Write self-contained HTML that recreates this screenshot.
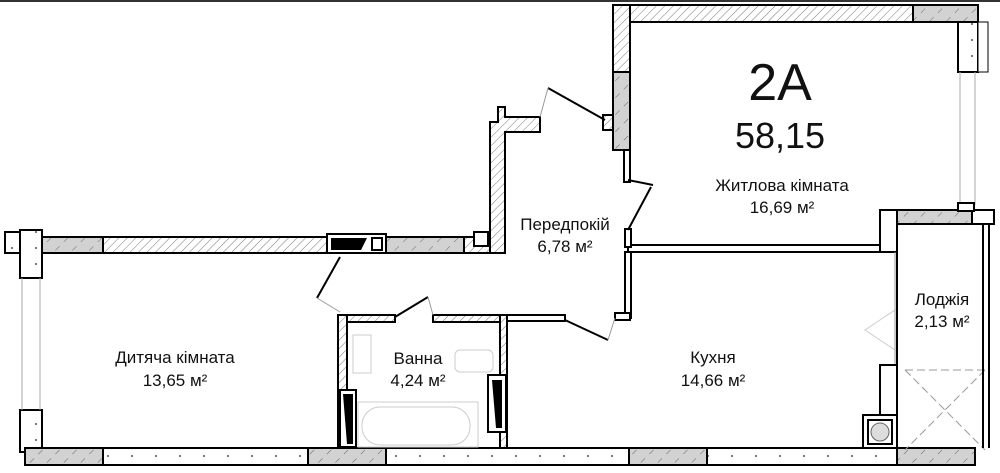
<!DOCTYPE html>
<html><head><meta charset="utf-8"><style>
html,body{margin:0;padding:0;background:#fff;width:1000px;height:473px;overflow:hidden}
svg{display:block}
text{font-family:"Liberation Sans",sans-serif;fill:#111;text-anchor:middle}
</style></head><body>
<svg width="1000" height="473" viewBox="0 0 1000 473" xmlns="http://www.w3.org/2000/svg">
<defs>
<pattern id="h" width="6" height="6" patternUnits="userSpaceOnUse" patternTransform="rotate(45)">
<rect width="6" height="6" fill="#fff"/><line x1="0" y1="0" x2="0" y2="6" stroke="#777" stroke-width="1"/></pattern>
<pattern id="g" width="12" height="12" patternUnits="userSpaceOnUse" patternTransform="rotate(45)">
<rect width="12" height="12" fill="#d2d2d2"/><line x1="0" y1="0" x2="0" y2="6" stroke="#666" stroke-width="1"/></pattern>
<pattern id="d" width="24" height="16" patternUnits="userSpaceOnUse">
<rect width="24" height="16" fill="#fff"/><circle cx="12" cy="8" r="1" fill="#555"/></pattern>
</defs>
<rect x="0" y="0" width="1000" height="2" fill="#333"/>
<g stroke="#000" stroke-width="2">
<rect x="613" y="5" width="300" height="17" fill="url(#h)"/>
<rect x="913" y="5" width="65" height="17" fill="url(#g)"/>
<rect x="613" y="5" width="17" height="67" fill="url(#h)"/>
<rect x="613" y="72" width="17" height="78" fill="url(#g)"/>
<rect x="624" y="150" width="6" height="32" fill="#fff"/>
<rect x="958" y="22" width="20" height="50" fill="url(#d)"/>
<rect x="978" y="22" width="10" height="50" fill="#fff" stroke-width="1"/>
<line x1="960" y1="72" x2="960" y2="205" stroke="#aaa" stroke-width="1"/>
<line x1="975" y1="72" x2="975" y2="205" stroke="#aaa" stroke-width="1"/>
<rect x="880" y="210" width="17" height="42" fill="url(#d)"/>
<rect x="897" y="210" width="75" height="14" fill="url(#g)"/>
<rect x="972" y="210" width="22" height="14" fill="url(#d)"/>
<rect x="958" y="203" width="16" height="8" fill="#fff"/>
<rect x="628" y="245" width="252" height="7" fill="#fff"/>
<rect x="625" y="252" width="6" height="66" fill="#fff"/>
<rect x="625" y="229" width="6" height="18" fill="#fff"/>
<path d="M498 107 h7 v10 h35 v15 h-35 v121 h-15 v-131 h8 z" fill="url(#h)"/>
<rect x="603" y="115" width="10" height="15" fill="url(#h)"/>
<rect x="25" y="237" width="78" height="16" fill="url(#g)"/>
<rect x="103" y="237" width="224" height="16" fill="url(#h)"/>
<rect x="327" y="234" width="59" height="19" fill="#fff"/>
<path d="M331 238 h36 l-6 12 h-30 z" fill="#000" stroke="none"/>
<rect x="372" y="238" width="10" height="12" fill="#fff"/>
<rect x="386" y="237" width="78" height="16" fill="url(#g)"/>
<rect x="464" y="237" width="26" height="16" fill="url(#h)"/>
<path d="M474 232 h14 v14 h-14 z" fill="#fff"/>
<rect x="5" y="232" width="20" height="21" fill="url(#d)"/>
<rect x="20" y="230" width="22" height="48" fill="url(#d)"/>
<rect x="20" y="410" width="22" height="42" fill="url(#d)"/>
<line x1="22" y1="278" x2="22" y2="410" stroke="#aaa" stroke-width="1"/>
<line x1="40" y1="278" x2="40" y2="410" stroke="#aaa" stroke-width="1"/>
<rect x="25" y="448" width="78" height="17" fill="url(#g)"/>
<rect x="103" y="448" width="205" height="17" fill="url(#d)"/>
<rect x="308" y="448" width="78" height="17" fill="url(#g)"/>
<rect x="386" y="448" width="243" height="17" fill="url(#d)"/>
<rect x="629" y="448" width="78" height="17" fill="url(#g)"/>
<rect x="707" y="448" width="190" height="17" fill="url(#d)"/>
<rect x="897" y="448" width="78" height="17" fill="url(#g)"/>
<rect x="338" y="315" width="57" height="7" fill="url(#h)"/>
<rect x="433" y="315" width="74" height="7" fill="url(#h)"/>
<rect x="338" y="315" width="9" height="133" fill="url(#h)"/>
<rect x="500" y="315" width="7" height="133" fill="url(#h)"/>
<rect x="340" y="390" width="16" height="57" fill="#fff"/>
<path d="M343 394 h10 v50 h-6 z" fill="#000" stroke="none"/>
<rect x="488" y="375" width="18" height="57" fill="#fff"/>
<path d="M492 380 h10 v48 h-6 z" fill="#000" stroke="none"/>
<rect x="507" y="315" width="58" height="6" fill="#fff"/>
<rect x="615" y="313" width="15" height="7" fill="#fff"/>
</g>
<g fill="none" stroke="#ccc" stroke-width="1">
<rect x="353" y="335" width="18" height="38"/>
<rect x="455" y="350" width="38" height="22" rx="5"/>
<rect x="358" y="402" width="120" height="45"/>
<rect x="362" y="407" width="108" height="38" rx="18"/>
<path d="M865 330 l30 -20 v40 z"/>
</g>
<g stroke="#000" stroke-width="2" fill="none">
<line x1="605" y1="120" x2="548" y2="88"/>
<line x1="628" y1="180" x2="653" y2="185"/><line x1="651" y1="187" x2="628" y2="230"/>
<line x1="340" y1="257" x2="317" y2="298"/>
<line x1="395" y1="317" x2="428" y2="297"/>
<line x1="565" y1="320" x2="608" y2="340"/>
</g>
<g stroke="#999" stroke-width="1" fill="none">
<line x1="540" y1="117" x2="548" y2="88"/>
<line x1="317" y1="298" x2="340" y2="312"/>
<line x1="428" y1="297" x2="433" y2="315"/>
<line x1="608" y1="340" x2="615" y2="318"/>
<line x1="905" y1="370" x2="985" y2="370" stroke-dasharray="8 4"/>
<line x1="905" y1="370" x2="985" y2="450" stroke-dasharray="8 4"/>
<line x1="985" y1="370" x2="905" y2="450" stroke-dasharray="8 4"/>
<line x1="895" y1="252" x2="895" y2="365"/>
</g>
<g stroke="#000" stroke-width="2">
<rect x="880" y="365" width="17" height="50" fill="url(#d)"/>
<rect x="863" y="415" width="34" height="33" fill="#fff"/>
<rect x="868" y="420" width="24" height="24" fill="#fff"/>
<circle cx="880" cy="432" r="9" fill="#ddd" stroke="#666" stroke-width="1"/>
<line x1="983" y1="224" x2="983" y2="448"/>
<line x1="989" y1="224" x2="989" y2="448"/>
<line x1="897" y1="224" x2="897" y2="448"/>
</g>
<text x="780" y="100" font-size="52">2A</text>
<text x="780" y="148" font-size="36">58,15</text>
<text x="782" y="191" font-size="17">Житлова кімната</text>
<text x="782" y="213" font-size="17">16,69 м²</text>
<text x="565" y="230" font-size="17">Передпокій</text>
<text x="565" y="252" font-size="17">6,78 м²</text>
<text x="175" y="363" font-size="17">Дитяча кімната</text>
<text x="175" y="386" font-size="17">13,65 м²</text>
<text x="418" y="364" font-size="17">Ванна</text>
<text x="418" y="386" font-size="17">4,24 м²</text>
<text x="713" y="363" font-size="17">Кухня</text>
<text x="713" y="386" font-size="17">14,66 м²</text>
<text x="942" y="305" font-size="17">Лоджія</text>
<text x="942" y="327" font-size="17">2,13 м²</text>
</svg>
</body></html>
